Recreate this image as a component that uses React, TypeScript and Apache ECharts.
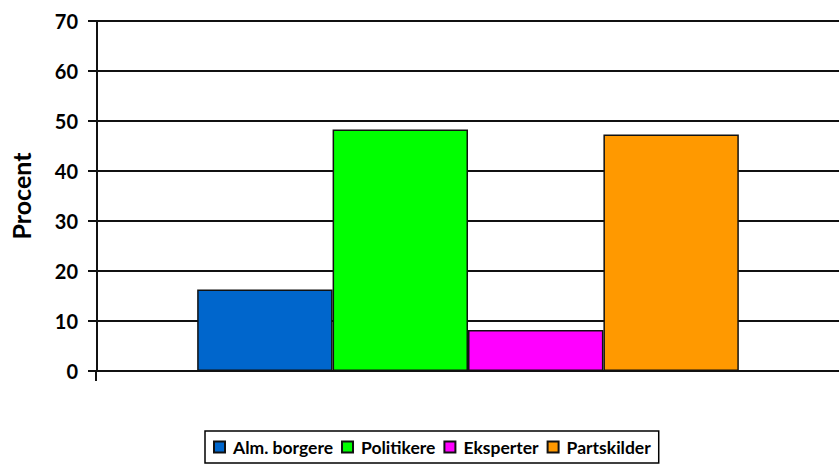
import React, { useEffect, useRef } from "react";
import * as echarts from "echarts";

const categories = [""];
const seriesNames = ["Alm. borgere", "Politikere", "Eksperter", "Partskilder"];
const seriesValues = [16.3, 48.3, 8.2, 47.3];
const seriesColors = ["#0066CC", "#00FF00", "#FF00FF", "#FF9900"];
const yMin = 0;
const yMax = 70;
const yInterval = 10;
const yAxisTitle = "Procent";

const FONT = "Lato, 'Open Sans', sans-serif";
const GRID_LEFT = 96;

export default function App() {
  const ref = useRef<HTMLDivElement>(null);
  useEffect(() => {
    if (!ref.current) return;
    const chart = echarts.init(ref.current, undefined, { renderer: "svg" });
    chart.setOption({
      animation: false,
      backgroundColor: "#ffffff",
      grid: { left: GRID_LEFT, right: -8, top: 21, bottom: 96, containLabel: false },
      legend: {
        data: seriesNames,
        bottom: 4,
        left: 205,
        orient: "horizontal",
        icon: "rect",
        itemWidth: 11,
        itemHeight: 11,
        itemGap: 8,
        padding: [7, 8, 7, 8],
        borderColor: "#000",
        borderWidth: 1.5,
        selectedMode: false,
        textStyle: { fontFamily: FONT, fontWeight: "bold", fontSize: 17.5, color: "#000", padding: [0, 0, 0, 3] },
      },
      xAxis: {
        type: "category",
        data: categories,
        axisLine: { show: true, lineStyle: { color: "#111", width: 2 } },
        axisTick: { show: false },
        axisLabel: { show: false },
        splitLine: { show: false },
      },
      yAxis: {
        type: "value",
        min: yMin,
        max: yMax,
        interval: yInterval,
        name: yAxisTitle,
        nameLocation: "middle",
        nameRotate: 90,
        nameGap: 64,
        nameTextStyle: { fontFamily: FONT, fontWeight: "bold", fontSize: 25, color: "#000" },
        axisLine: { show: true, lineStyle: { color: "#111", width: 2 } },
        axisTick: { show: true, length: 9, lineStyle: { color: "#111", width: 2 } },
        axisLabel: { fontFamily: FONT, fontWeight: "bold", fontSize: 20, color: "#000", margin: 19 },
        splitLine: { show: true, lineStyle: { color: "#111", width: 2 } },
      },
      series: seriesNames.map((name, i) => ({
        name,
        type: "bar",
        data: [seriesValues[i]],
        barGap: "0%",
        barCategoryGap: "27%",
        itemStyle: { color: seriesColors[i], borderColor: "#111", borderWidth: 1.5 },
      })),
    });
    // Category-axis boundary tick below the origin (derived from the y scale)
    const y0 = chart.convertToPixel({ yAxisIndex: 0 }, yMin) as number;
    chart.setOption({
      graphic: [
        {
          type: "line",
          shape: { x1: GRID_LEFT, y1: y0, x2: GRID_LEFT, y2: y0 + 10 },
          style: { stroke: "#111", lineWidth: 2 },
          silent: true,
        },
      ],
    });
    return () => chart.dispose();
  }, []);
  return (
    <div
      ref={ref}
      style={{ position: "fixed", left: 0, top: 0, width: 839, height: 467 }}
    />
  );
}
